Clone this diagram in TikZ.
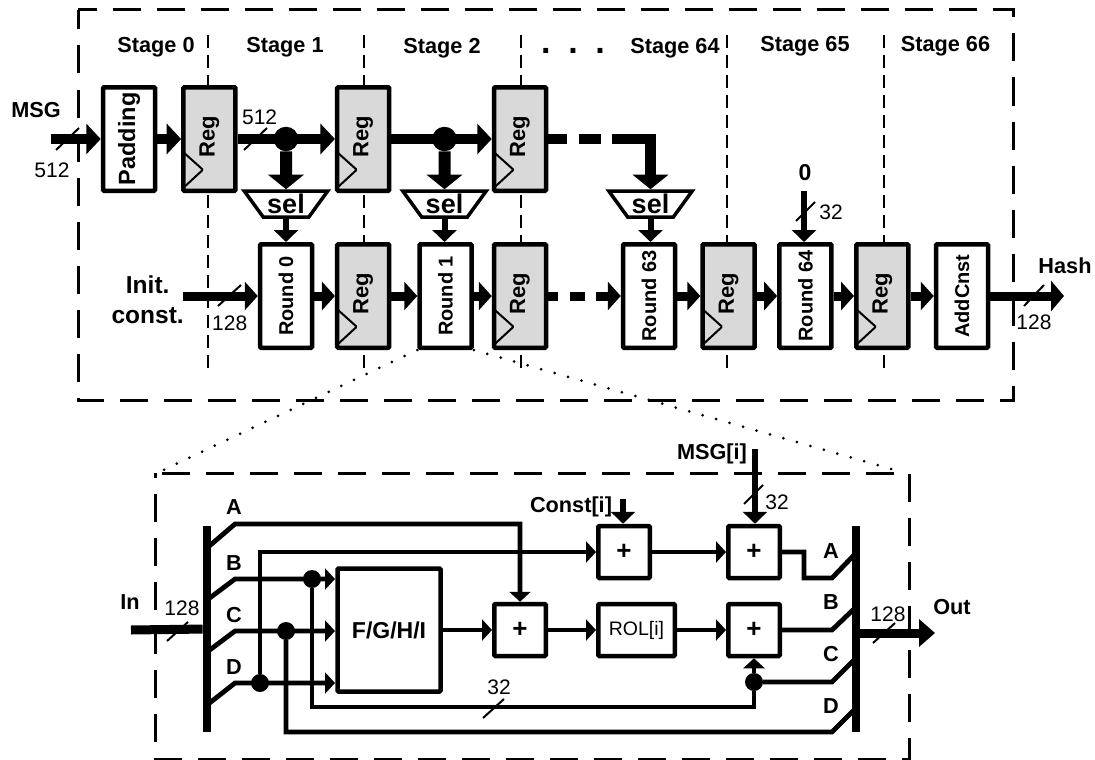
\documentclass[tikz,border=0pt]{standalone}
\usepackage{fontspec}
\setmainfont{Liberation Sans}
\usetikzlibrary{arrows.meta,shapes.geometric}
\newcommand{\rottxt}[1]{\rotatebox{90}{#1}}
\begin{document}
\begin{tikzpicture}[x=1pt,y=-1pt,
  lab/.style={font=\fontsize{21.7}{23}\selectfont\bfseries,inner sep=0pt,align=center},
  num/.style={font=\fontsize{21}{23}\selectfont,inner sep=0pt},
  frameline/.style={line width=3pt,dash pattern=on 28pt off 16pt},
  stageline/.style={line width=2pt,dash pattern=on 13pt off 7pt},
  zoomline/.style={line width=3pt,line cap=round,dash pattern=on 0pt off 14pt},
  plainbox/.style={draw,fill=white,line width=4.5pt,rounded corners=1pt,inner sep=0pt,minimum width=52pt,minimum height=103.5pt,font=\fontsize{20}{22}\selectfont\bfseries},
  regbox/.style={plainbox,fill=reggray,font=\fontsize{22}{24}\selectfont\bfseries,
    path picture={\draw[line width=2pt] ([shift={(0,-38.5)}]path picture bounding box.south west) -- ([shift={(19.5,-21)}]path picture bounding box.south west) -- ([shift={(0,-3)}]path picture bounding box.south west);}},
  addbox/.style={draw,fill=white,line width=4.5pt,rounded corners=1pt,inner sep=0pt,minimum width=51.5pt,minimum height=52pt,font=\fontsize{26}{28}\selectfont\bfseries},
  selbox/.style={draw,fill=white,trapezium,shape border rotate=180,trapezium angle=54,trapezium stretches body,line width=3.5pt,inner sep=0pt,minimum width=83.5pt,
    label={[font=\fontsize{27}{27}\selectfont\bfseries,inner sep=0pt]center:sel}},
  bigdot/.style={circle,fill=black,inner sep=0pt,minimum size=24.5pt},
  tapdot/.style={circle,fill=black,inner sep=0pt,minimum size=18pt},
  bar/.style={fill=black,inner sep=0pt,minimum width=8.5pt,minimum height=206pt},
  bus/.style={-{Triangle[length=14.5pt,width=30pt]},line width=10.5pt},
  rowbus/.style={-{Triangle[length=13pt,width=28pt]},line width=9pt},
  thinbus/.style={-{Triangle[length=12pt,width=24pt]},line width=6pt},
  wire/.style={-{Triangle[length=10pt,width=21pt]},line width=4.8pt},
  plainwire/.style={line width=4.8pt},
  slash/.style={line width=2pt}]
\definecolor{reggray}{RGB}{217,217,217}
\useasboundingbox (0,0) rectangle (1095,760);
% stage dividers and frames
\draw[stageline] (207.6,35) -- (207.6,372);
\draw[stageline] (364,35) -- (364,372);
\draw[stageline] (521,35) -- (521,372);
\draw[stageline] (727.4,35) -- (727.4,372);
\draw[stageline] (883.8,35) -- (883.8,372);
\draw[frameline,dash phase=9.5pt] (78,10) -- (1013,10) -- (1013,400) -- (78,400) -- cycle;
\draw[frameline,dash phase=37pt] (155,473) -- (909,473) -- (909,759) -- (155,759) -- cycle;
% top row
\node[lab] (stage0) at (156,47) {Stage 0};
\node[lab] (stage1) at (285,47) {Stage 1};
\node[lab] (stage2) at (442,48) {Stage 2};
\node[font=\fontsize{34}{34}\selectfont\bfseries,inner sep=0pt] (gap) at (573,51) {.\hspace{17.6pt}.\hspace{17.6pt}.};
\node[lab] (stage64) at (675,48) {Stage 64};
\node[lab] (stage65) at (805,46) {Stage 65};
\node[lab] (stage66) at (945.5,46) {Stage 66};
\node[lab] (msg) at (36,110) {MSG};
\coordinate (msgin) at (51,139);
\node[plainbox,font=\fontsize{23.5}{25}\selectfont\bfseries] (pad) at (129,139) {\rottxt{Padding}};
\node[regbox] (r1) at (209.4,139) {\rottxt{\hspace{5pt}Reg}};
\node[regbox] (r2) at (363.2,139) {\rottxt{\hspace{5pt}Reg}};
\node[regbox] (r3) at (520,139) {\rottxt{\hspace{5pt}Reg}};
\node[bigdot] (dot1) at (286,139) {};
\node[bigdot] (dot2) at (444.5,139) {};
\node[selbox] (sel1) at (286,204) {\phantom{\rule{1pt}{26pt}}};
\node[selbox] (sel2) at (444.5,204) {\phantom{\rule{1pt}{26pt}}};
\node[selbox] (sel3) at (650.5,204) {\phantom{\rule{1pt}{26pt}}};
\draw[bus] (msgin) -- (pad);
\draw[bus] (pad) -- (r1);
\draw[bus] (r1) -- (r2);
\draw[bus] (r2) -- (r3);
\draw[bus,line width=12pt,-{Triangle[length=14.5pt,width=35pt]}] (dot1) -- (sel1.north);
\draw[bus,line width=12pt,-{Triangle[length=14.5pt,width=35pt]}] (dot2) -- (sel2.north);
\draw[bus,-{Triangle[length=14.5pt,width=35pt]},dash pattern=on 19pt off 12pt on 22pt off 11pt on 300pt] (r3.east) -| (sel3.north);
\draw[slash] (56,150) -- (79,128);
\draw[slash] (244,150) -- (267,128);
\node[num] (w512a) at (52,170) {512};
\node[num] (w512b) at (259.6,117) {512};
% second row
\node[lab,font=\fontsize{24.5}{30}\selectfont\bfseries] (init) at (147.7,300) {Init.\\const.};
\coordinate (initin) at (183,296);
\node[plainbox] (round0) at (286,296) {\rottxt{Round 0}};
\node[regbox] (r4) at (363.2,296) {\rottxt{\hspace{5pt}Reg}};
\node[plainbox] (round1) at (445.5,296) {\rottxt{Round 1}};
\node[regbox] (r5) at (520,296) {\rottxt{\hspace{5pt}Reg}};
\node[plainbox] (round63) at (649,296) {\rottxt{Round 63}};
\node[regbox] (r6) at (728.6,296) {\rottxt{\hspace{5pt}Reg}};
\node[plainbox] (round64) at (805.4,296) {\rottxt{Round 64}};
\node[regbox] (r7) at (882.3,296) {\rottxt{\hspace{5pt}Reg}};
\node[plainbox] (addcnst) at (962,296) {\rottxt{AddCnst}};
\draw[rowbus] (initin) -- (round0);
\draw[rowbus] (round0) -- (r4);
\draw[rowbus] (r4) -- (round1);
\draw[rowbus] (round1) -- (r5);
\draw[rowbus,dash pattern=on 9.5pt off 12.3pt on 15.4pt off 11pt on 60pt] (r5) -- (round63);
\draw[rowbus] (round63) -- (r6);
\draw[rowbus] (r6) -- (round64);
\draw[rowbus] (round64) -- (r7);
\draw[rowbus] (r7) -- (addcnst);
\coordinate (hashout) at (1064,296);
\draw[rowbus,-{Triangle[length=13pt,width=30pt]}] (addcnst) -- (hashout);
\draw[thinbus] (sel1.south) -- (sel1.south |- round0.north);
\draw[thinbus] (sel2.south) -- (sel2.south |- round1.north);
\draw[thinbus] (sel3.south) -- (sel3.south |- round63.north);
\node[lab,font=\fontsize{23}{25}\selectfont\bfseries] (zero) at (805,173) {0};
\coordinate (zeroin) at (804,191);
\draw[thinbus] (zeroin) -- (zeroin |- round64.north);
\draw[slash] (796,221) -- (815,202);
\draw[slash] (218,306) -- (241,285);
\draw[slash] (1024,306) -- (1044,285);
\node[num] (w32a) at (831,212) {32};
\node[num] (w128a) at (229.7,323) {128};
\node[num] (w128b) at (1034,322) {128};
\node[lab] (hash) at (1065,266) {Hash};
% zoom into round 1
\coordinate (innernw) at (157,473);
\coordinate (innerne) at (895,470);
\draw[zoomline] (round1.south west) -- (innernw);
\draw[zoomline] (round1.south east) -- (innerne);
% round internals
\node[bar] (lbar) at (207,629) {};
\node[bar] (rbar) at (856,629) {};
\coordinate (inin) at (131,630);
\coordinate (outpt) at (935,633);
\coordinate (tapa) at (207,548);
\coordinate (tapb) at (207,600);
\coordinate (tapc) at (207,652);
\coordinate (tapd) at (207,705);
\coordinate (rtapa) at (856,553);
\coordinate (rtapb) at (856,607);
\coordinate (rtapc) at (856,658);
\coordinate (rtapd) at (856,708);
\node[addbox,minimum width=103pt,minimum height=123pt,font=\fontsize{23}{25}\selectfont\bfseries] (func) at (389,630) {F/G/H/I};
\node[addbox] (add1) at (624,552) {+};
\node[addbox] (add2) at (754,552) {+};
\node[addbox] (add3) at (520,630) {+};
\node[addbox,minimum width=76.5pt,font=\fontsize{19.5}{22}\selectfont] (rol) at (636.5,630) {ROL[i]};
\node[addbox] (add4) at (754,630) {+};
\node[tapdot] (dotb) at (312,579) {};
\node[tapdot] (dotc) at (286,631) {};
\node[tapdot] (dotd) at (260,683) {};
\node[tapdot] (dotr) at (754,682) {};
\draw[wire] (dotd) |- (add1);
\draw[wire] (tapa) -- ++(28,-24) -| (add3);
\draw[wire] (tapb) -- ++(28,-21) -- ++(100,0);
\draw[wire] (tapc) -- ++(28,-21) -- ++(100,0);
\draw[wire] (tapd) -- ++(28,-22) -- ++(100,0);
\draw[plainwire] (dotb) -- ++(0,128) -| (dotr);
\draw[plainwire] (rtapd) -- ++(-24,24) -| (dotc);
\draw[plainwire] (rtapa) -- ++(-24,25) -- ++(-28,0) |- (add2.east);
\draw[plainwire] (rtapb) -- ++(-24,23) -- (add4.east);
\draw[plainwire] (rtapc) -- ++(-24,24) -- (dotr);
\draw[wire] (dotr) -- (add4.south);
\draw[wire] (func) -- (add3);
\draw[wire] (add3) -- (rol);
\draw[wire] (rol) -- (add4);
\draw[wire] (add1) -- (add2);
\coordinate (constin) at (623,499);
\coordinate (msgiin) at (755,449);
\draw[thinbus] (constin) -- (constin |- add1.north);
\draw[thinbus] (msgiin) -- (msgiin |- add2.north);
\draw[line width=9pt] (inin) -- (lbar);
\draw[rowbus,-{Triangle[length=16pt,width=27pt]}] (rbar.center |- outpt) -- (outpt);
\draw[slash] (167,641) -- (188,622);
\draw[slash] (873,643) -- (895,623);
\draw[slash] (744,504) -- (763,485);
\draw[slash] (483,718) -- (504,699);
\node[lab] (in) at (130,602) {In};
\node[lab] (out) at (952,607) {Out};
\node[num] (w128c) at (182,608) {128};
\node[num] (w128d) at (888,614) {128};
\node[num] (w32b) at (777,502) {32};
\node[num] (w32c) at (499,687) {32};
\node[lab] (consti) at (571,507) {Const[i]};
\node[lab] (msgi) at (712,454) {MSG[i]};
\node[lab] (la) at (234,507) {A};
\node[lab] (lb) at (234,563) {B};
\node[lab] (lc) at (234,615) {C};
\node[lab] (ld) at (234,667) {D};
\node[lab] (ra) at (831,551) {A};
\node[lab] (rb) at (831,602) {B};
\node[lab] (rc) at (831,654) {C};
\node[lab] (rd) at (831,706) {D};
\end{tikzpicture}
\end{document}
